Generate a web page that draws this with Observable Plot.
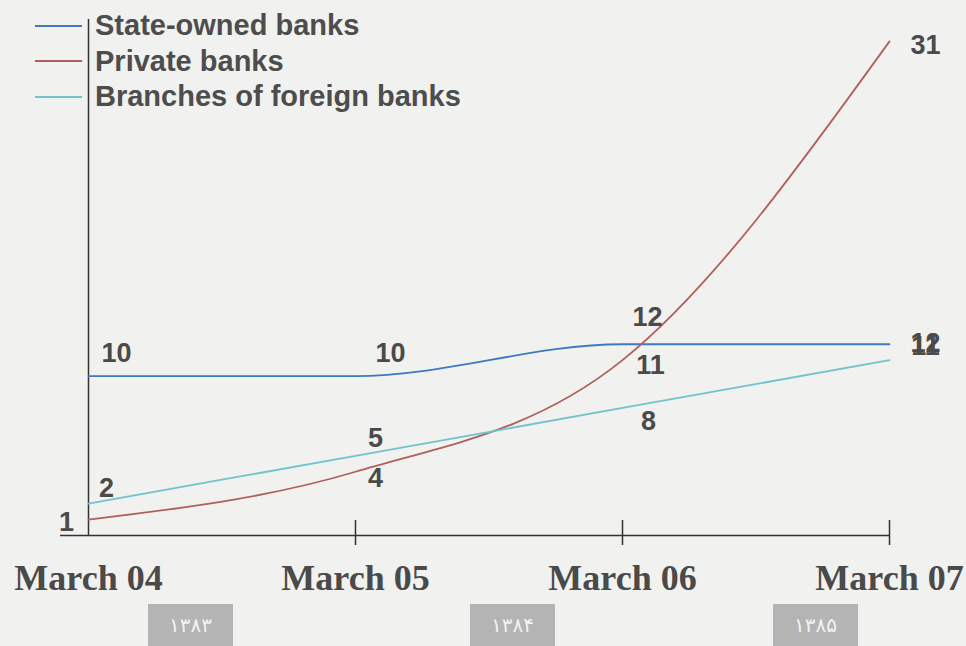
<!DOCTYPE html>
<html>
<head>
<meta charset="utf-8">
<script src="https://cdn.jsdelivr.net/npm/d3@7"></script>
<script src="https://cdn.jsdelivr.net/npm/@observablehq/plot@0.6"></script>
<style>
  html, body { margin: 0; padding: 0; background: #f1f1ef; }
  #wrap { position: relative; width: 966px; height: 646px; overflow: hidden; }
  #legend { position: absolute; left: 35px; top: 8px; font-family: "Liberation Sans", Arial, sans-serif; font-weight: bold; font-size: 29px; color: #4d4d4d; }
  .row { display: flex; align-items: center; height: 35.5px; }
  .sw { width: 47px; height: 0; border-top: 2px solid; margin-right: 13px; }
  .pbox { position: absolute; top: 604px; width: 85px; height: 42px; background: #b4b4b4; color: #f2f2f2; font-family: "DejaVu Sans", sans-serif; font-size: 20px; display: flex; align-items: center; justify-content: center; letter-spacing: 1px; }
</style>
</head>
<body>
<div id="wrap"></div>
<script>
const dates = ["March 04", "March 05", "March 06", "March 07"];
const seriesNames = ["State-owned banks", "Private banks", "Branches of foreign banks"];
const stateOwned = [10, 10, 12, 12];
const privateBanks = [1, 4, 11, 31];
const foreignBranches = [2, 5, 8, 11];
const persianYears = ["۱۳۸۳", "۱۳۸۴", "۱۳۸۵"];
const colors = ["#3f79c4", "#b0605c", "#6fc4cc"];

// label offsets (style): [dx, dy] per series per date
const labelOffsets = [
  [[28, -23], [35, -23], [25, -27], [36, -1]],
  [[-22, 3], [20, 7], [28, 5], [36, 4]],
  [[18, -15], [20, -17], [26, 13], [36, -14]]
];

const valuesBySeries = [stateOwned, privateBanks, foreignBranches];
const rows = [];
valuesBySeries.forEach((vals, s) => vals.forEach((v, i) => rows.push({
  series: seriesNames[s], date: dates[i], value: v
})));

const labelFont = {fontSize: 27, fontWeight: "bold", fontFamily: "Liberation Sans, Arial, sans-serif", fill: "#4a4a4a"};

const plot = Plot.plot({
  width: 966,
  height: 646,
  marginLeft: 87,
  marginRight: 77,
  marginTop: 9,
  marginBottom: 111,
  style: {background: "transparent", overflow: "visible"},
  x: {type: "point", domain: dates, padding: 0, axis: null},
  y: {domain: [0, 33], axis: null},
  color: {domain: seriesNames, range: colors},
  marks: [
    Plot.ruleY([0], {stroke: "#333", strokeWidth: 1.5, insetLeft: -27}),
    Plot.ruleX([dates[0]], {y1: 0, y2: 33, stroke: "#333", strokeWidth: 1.5, insetBottom: -10}),
    Plot.ruleY([33], {x1: dates[0], x2: dates[0], stroke: "#333", strokeWidth: 1.5, insetLeft: -9, insetRight: -8}),
    Plot.ruleX(dates.slice(1), {y1: 0, y2: 0, stroke: "#333", strokeWidth: 1.5, insetTop: -15, insetBottom: -10}),
    Plot.line(rows, {x: "date", y: "value", z: "series", stroke: "series", curve: "monotone-x", strokeWidth: 1.8}),
    ...valuesBySeries.map((vals, s) =>
      Plot.text(rows.filter(r => r.series === seriesNames[s]), {
        x: "date", y: "value", text: d => String(d.value), ...labelFont
      })
    ),
    Plot.text(dates, {x: d => d, frameAnchor: "bottom", dy: 54, text: d => d,
      fontSize: 36, fontWeight: "bold", fontFamily: "Liberation Serif, Times New Roman, serif", fill: "#4a4a4a"})
  ]
});

const wrap = document.getElementById("wrap");
wrap.appendChild(plot);

// Position value labels individually using offsets
const labelTexts = Array.from(plot.querySelectorAll("text")).filter(t => /^\d+$/.test(t.textContent));
let k = 0;
valuesBySeries.forEach((vals, s) => vals.forEach((v, i) => {
  const t = labelTexts[k++];
  if (!t) return;
  const tr = t.getAttribute("transform") || "";
  t.setAttribute("transform", tr + ` translate(${labelOffsets[s][i][0]},${labelOffsets[s][i][1]})`);
}));

// legend
const legend = document.createElement("div");
legend.id = "legend";
seriesNames.forEach((name, i) => {
  const row = document.createElement("div");
  row.className = "row";
  const sw = document.createElement("div");
  sw.className = "sw";
  sw.style.borderTopColor = colors[i];
  const tx = document.createElement("span");
  tx.textContent = name;
  row.appendChild(sw);
  row.appendChild(tx);
  legend.appendChild(row);
});
wrap.appendChild(legend);

// Persian year boxes
const boxLefts = [148, 470, 773];
persianYears.forEach((y, i) => {
  const b = document.createElement("div");
  b.className = "pbox";
  b.style.left = boxLefts[i] + "px";
  b.textContent = y;
  wrap.appendChild(b);
});
</script>
</body>
</html>
